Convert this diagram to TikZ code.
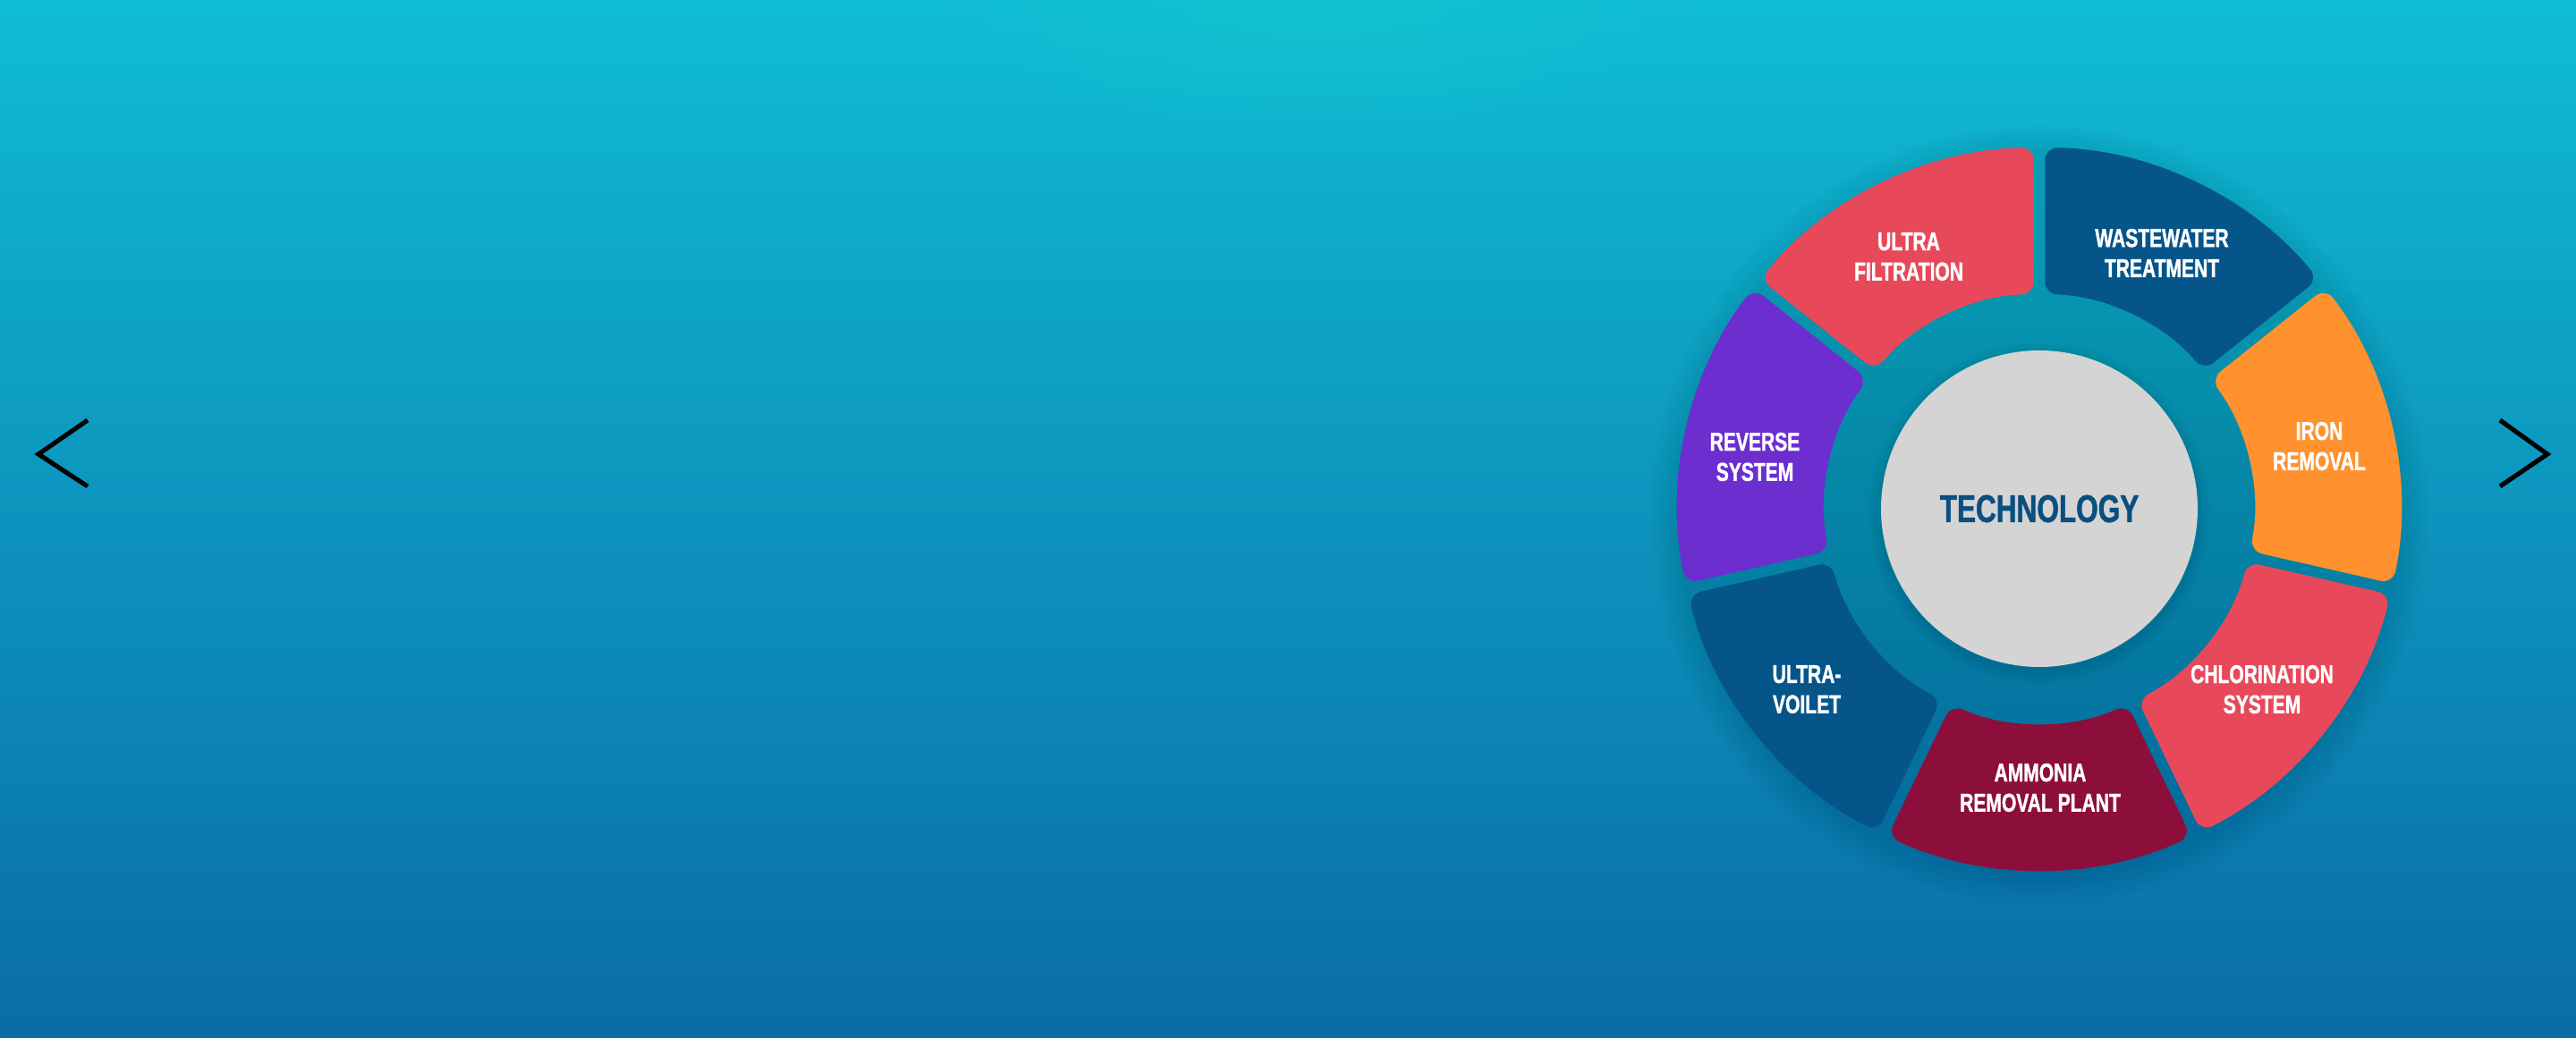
\documentclass[tikz,border=0pt]{standalone}
\usepackage{fontspec}
\newfontfamily\segfont{Liberation Sans}[FakeStretch=0.74]
\newfontfamily\segfontheavy{Liberation Sans}[FakeStretch=0.73,FakeBold=1.2]
\usetikzlibrary{positioning,fadings}
\tikzfading[name=glowfade,inner color=transparent!0,outer color=transparent!100]

\definecolor{bgtop}{HTML}{10BCD5}
\definecolor{bgmid}{HTML}{0D9ECA}
\definecolor{bgbot}{HTML}{0A6CA6}
\definecolor{glow}{HTML}{18CACC}
\definecolor{segred}{HTML}{E8495A}
\definecolor{segblue}{HTML}{05558A}
\definecolor{segorange}{HTML}{FF922E}
\definecolor{segcrimson}{HTML}{8C0F3B}
\definecolor{segpurple}{HTML}{6C2ECF}
\definecolor{hubgray}{HTML}{D4D4D4}
\definecolor{hubtext}{HTML}{0B4E80}

\begin{document}
\begin{tikzpicture}[x=1cm,y=1cm,
  seg/.style={rounded corners=4pt},
  lbl/.style={text=white,align=center,inner sep=1pt,
    font=\segfontheavy\bfseries\fontsize{8.2}{9.6}\selectfont},
  chev/.style={line width=1.45pt,black}]
 % backdrop
 \shade[top color=bgtop,middle color=bgmid,bottom color=bgbot]
   (0,0) rectangle (28.8,11.6);
 \useasboundingbox (0,0) rectangle (28.8,11.6);
 \fill[glow,opacity=.5,path fading=glowfade] (14.7,11.6) ellipse (4.2 and 1.6);
 \coordinate (ctr) at (22.80,5.91);
 % soft shadow under the ring
 \foreach \k in {1,...,8}{
  \fill[black,opacity=.011] ([yshift=-.8mm]ctr) circle ({4.00+.045*\k});
 }
 \begin{scope}[shift={(ctr)}]
  \pgfmathsetmacro\dout{asin(0.0625/4.04)}
  \pgfmathsetmacro\din{asin(0.0625/2.40)}
  \foreach \k/\nm/\col/\lx/\ly/\txt in {
    0/wastewater/segblue/1.37/2.86/{WASTEWATER\\TREATMENT},
    1/iron/segorange/3.13/.70/{IRON\\REMOVAL},
    2/chlorine/segred/2.49/-2.02/{CHLORINATION\\SYSTEM},
    3/ammonia/segcrimson/0.01/-3.12/{AMMONIA\\REMOVAL PLANT},
    4/uv/segblue/-2.60/-2.02/{ULTRA-\\VOILET},
    5/reverse/segpurple/-3.18/.58/{REVERSE\\SYSTEM},
    6/ultra/segred/-1.46/2.82/{ULTRA\\FILTRATION}}{
   \pgfmathsetmacro\a{90-51.4286*(\k+1)}
   \pgfmathsetmacro\b{90-51.4286*\k}
   \fill[seg,\col] (\a+\dout:4.04)
     arc[start angle=\a+\dout,end angle=\b-\dout,radius=4.04]
     -- (\b-\din:2.40)
     arc[start angle=\b-\din,end angle=\a+\din,radius=2.40] -- cycle;
   \node[lbl] (\nm) at (\lx,\ly) {\txt};
  }
  % hub
  \foreach \k in {1,...,4}{
   \fill[black,opacity=.02] (0,-.04) circle ({1.77+.035*\k});
  }
  \node[circle,fill=hubgray,minimum size=3.54cm,inner sep=0pt,text=hubtext,
    font=\segfontheavy\bfseries\fontsize{12.3}{14}\selectfont] (hub) at (0,0) {TECHNOLOGY};
 \end{scope}
 % slider arrows
 \draw[chev] (0.98,6.90) -- (0.43,6.52) -- (0.98,6.16);
 \draw[chev] (27.95,6.90) -- (28.48,6.52) -- (27.95,6.16);
\end{tikzpicture}
\end{document}
